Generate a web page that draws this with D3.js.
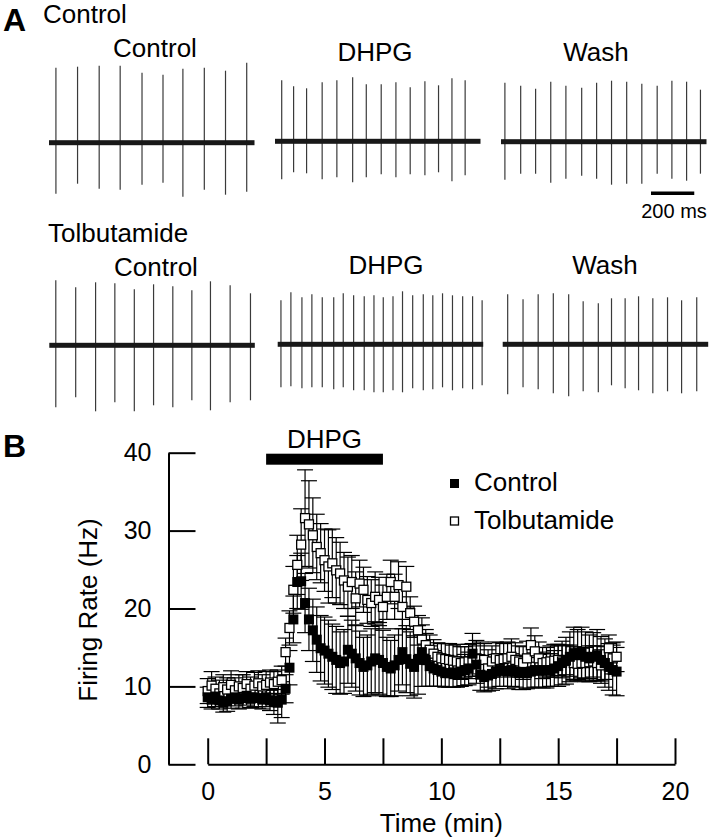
<!DOCTYPE html>
<html>
<head>
<meta charset="utf-8">
<script src="https://cdn.jsdelivr.net/npm/d3@7"></script>
<style>
  body { margin: 0; background: #fff; }
  svg { display: block; font-family: "Liberation Sans", Arial, sans-serif; }
</style>
</head>
<body>
<div class="fig"></div>
<script>
// ---------- Panel A: spike traces (times in ms, peaks/troughs in a.u.) ----------
const traceMs = 950

const ctlCtrlSpikes = [32, 132, 232, 329, 430, 527, 619, 718, 816, 914]
const ctlCtrlPeak = [75, 76, 77, 77, 70, 68, 74, 75, 72, 80]
const ctlCtrlTrough = [51, 41, 46, 47, 42, 40, 54, 47, 52, 49]

const ctlDhpgSpikes = [31, 86, 146, 218, 286, 359, 422, 491, 559, 625, 693, 756, 818, 879]
const ctlDhpgPeak = [61, 55, 53, 59, 61, 64, 57, 57, 59, 54, 60, 56, 63, 61]
const ctlDhpgTrough = [38, 31, 32, 38, 36, 41, 36, 33, 36, 33, 34, 31, 40, 34]

const ctlWashSpikes = [18, 91, 160, 230, 300, 373, 442, 511, 581, 651, 722, 790, 858, 922]
const ctlWashPeak = [59, 56, 53, 60, 56, 54, 59, 61, 60, 58, 56, 61, 60, 52]
const ctlWashTrough = [38, 32, 32, 41, 37, 34, 37, 43, 42, 42, 32, 37, 39, 32]

const tolCtrlSpikes = [30, 122, 214, 303, 393, 482, 571, 659, 745, 836, 930]
const tolCtrlPeak = [65, 58, 63, 62, 56, 61, 59, 55, 64, 60, 52]
const tolCtrlTrough = [62, 52, 66, 57, 66, 60, 62, 55, 65, 57, 55]

const tolDhpgSpikes = [15, 61, 112, 158, 206, 259, 303, 351, 400, 445, 488, 533, 577, 624, 673, 717, 762, 808, 855, 901, 945]
const tolDhpgPeak = [44, 52, 47, 50, 47, 47, 51, 49, 48, 49, 47, 48, 53, 49, 50, 49, 51, 49, 48, 48, 44]
const tolDhpgTrough = [43, 42, 44, 43, 43, 45, 43, 46, 46, 48, 48, 46, 48, 44, 46, 45, 43, 46, 44, 45, 41]

const tolWashSpikes = [23, 94, 164, 234, 305, 372, 442, 503, 566, 628, 694, 762, 827, 897]
const tolWashPeak = [50, 45, 50, 51, 50, 43, 41, 46, 46, 48, 46, 47, 44, 47]
const tolWashTrough = [50, 43, 45, 49, 52, 47, 48, 41, 44, 46, 49, 47, 49, 47]

// ---------- Panel B: firing rate, 10 s bins from 0 min ----------
const binSec = 10
const ctrlRate = [8.6,8.3,8.7,8.2,7.9,8.1,8.4,8.6,8.3,8.5,
  8.8,8.4,8.6,8.5,8.3,8.6,8.2,8.0,7.9,8.3,
  9.7,12.4,18.6,23.4,23.5,20.7,18.6,17.2,16.0,14.9,
  14.6,14.2,13.8,13.4,13.0,13.2,14.7,14.2,13.6,13.0,
  12.5,12.7,13.2,13.6,13.4,13.0,12.5,12.3,12.7,13.4,
  14.4,13.5,12.9,12.5,13.4,14.4,13.4,12.6,12.3,12.1,
  11.9,11.7,11.7,11.8,11.7,11.9,12.1,12.3,14.2,12.8,
  11.5,11.2,11.4,11.6,11.9,12.1,12.0,11.9,12.1,11.9,
  11.7,11.8,11.7,11.9,12.1,12.0,12.1,12.0,12.1,12.3,
  12.6,13.0,13.3,13.8,14.2,14.0,14.2,13.8,13.6,13.8,
  14.0,13.4,13.0,12.5,12.1,11.9]
const ctrlSem = [1.3,1.2,1.3,1.1,1.2,1.3,1.2,1.1,1.2,1.3,
  1.2,1.1,1.2,1.3,1.2,1.2,1.3,1.6,2.6,2.3,
  1.8,2.2,3.0,3.4,3.6,3.8,4.0,4.0,4.2,4.2,
  4.3,4.3,4.2,4.3,4.0,4.1,4.3,4.3,4.2,4.1,
  3.8,3.9,4.2,4.4,4.4,4.2,3.8,3.6,3.9,4.0,
  4.2,4.3,4.1,4.0,4.4,4.4,3.4,2.6,2.3,2.1,
  1.9,1.8,1.8,1.9,1.8,1.9,2.0,2.1,2.6,2.4,
  2.0,1.9,2.0,2.1,2.2,2.1,2.0,2.2,2.1,2.0,
  2.1,2.2,2.0,2.1,2.2,2.1,2.3,2.2,2.1,2.3,
  2.6,2.8,3.0,3.2,3.4,3.3,3.4,3.2,3.0,3.1,
  3.3,3.0,3.1,3.0,3.2,3.1]
const tolbRate = [9.4,10.1,9.7,9.1,9.9,9.6,10.2,9.5,10.0,9.8,
  10.3,9.7,10.1,10.4,10.0,10.2,10.5,10.3,10.6,10.8,
  14.4,17.5,22.4,25.6,28.2,31.6,30.8,29.4,27.9,27.1,
  26.2,25.4,25.8,24.9,24.5,23.6,22.8,23.4,21.3,23.2,
  22.4,21.1,20.7,21.5,21.1,20.2,21.5,23.4,21.5,23.0,
  20.2,22.8,19.4,18.3,17.2,16.0,15.3,14.7,14.2,13.8,
  13.6,13.5,13.4,13.3,13.2,13.0,13.1,13.2,13.4,13.6,
  13.5,13.4,12.3,13.2,13.6,13.4,13.5,13.6,13.8,13.4,
  13.2,13.0,13.6,15.3,14.5,13.6,13.0,13.1,13.2,13.3,
  13.4,13.2,13.4,13.3,13.0,12.9,13.0,13.0,13.1,13.2,
  13.0,12.7,13.0,14.9,13.6,13.8]
const tolbSem = [1.6,1.8,1.5,1.7,1.6,1.5,1.8,1.6,1.5,1.7,
  1.6,1.5,1.7,1.6,1.5,1.7,1.6,1.6,1.5,1.8,
  1.8,2.2,3.0,3.8,4.6,6.2,5.6,4.8,4.2,3.8,
  4.0,4.7,4.4,4.2,4.0,3.6,3.8,3.4,3.4,3.0,
  2.9,3.0,3.0,3.2,2.9,2.8,2.9,2.8,2.9,3.0,
  2.8,2.6,2.1,2.0,1.9,1.9,2.0,1.9,1.8,1.8,
  1.9,2.0,2.1,2.0,2.2,2.1,2.0,2.2,2.1,2.3,
  2.2,2.1,2.4,2.0,2.1,2.2,2.0,2.1,2.3,2.2,
  2.0,2.1,2.2,2.2,2.0,2.1,2.0,1.9,2.0,2.1,
  2.0,2.1,1.9,2.0,2.1,2.0,1.9,2.0,2.1,2.0,
  2.2,2.0,2.1,1.7,2.0,1.9]

const yTicks = [0, 10, 20, 30, 40]
const xTicks = [0, 2.5, 5, 7.5, 10, 12.5, 15, 17.5, 20]
const dhpgOn = [2.5, 7.5]

// ---------- svg ----------
const width = 711
const height = 837

const svg = d3.select('.fig')
  .append('svg')
  .attr('width', width)
  .attr('height', height)

svg.append('rect').attr('width', width).attr('height', height).attr('fill', '#fff')

// panel letters
svg.append('text').attr('x', 3).attr('y', 31).text('A')
  .style('font-size', '32px').style('font-weight', 'bold')
svg.append('text').attr('x', 3).attr('y', 457).text('B')
  .style('font-size', '32px').style('font-weight', 'bold')

const label = (x, y, txt, anchor) => svg.append('text')
  .attr('x', x).attr('y', y)
  .attr('text-anchor', anchor || 'middle')
  .style('font-size', '26px')
  .text(txt)

label(43, 23, 'Control', 'start')
label(48, 242, 'Tolbutamide', 'start')

// one trace = baseline band + vertical spikes
const drawTrace = (x0, base, spikes, peaks, troughs, title, titleX, titleY) => {
  const tx = d3.scaleLinear().domain([0, traceMs]).range([x0, x0 + 205.5])
  const ty = d3.scaleLinear().domain([-80, 80]).range([base + 80, base - 80])
  const g = svg.append('g')
  g.selectAll('line')
    .data(spikes)
    .enter()
    .append('line')
    .attr('x1', d => tx(d))
    .attr('x2', d => tx(d))
    .attr('y1', (d, i) => ty(peaks[i]))
    .attr('y2', (d, i) => ty(-troughs[i]))
    .attr('stroke', '#3a3a3a')
    .attr('stroke-width', 1.2)
  g.append('rect')
    .attr('x', tx(0)).attr('y', base - 2.5)
    .attr('width', tx(traceMs) - tx(0)).attr('height', 5)
    .attr('fill', '#181818')
  label(titleX, titleY, title)
}

drawTrace(49, 142.7, ctlCtrlSpikes, ctlCtrlPeak, ctlCtrlTrough, 'Control', 155, 57)
drawTrace(275, 141.3, ctlDhpgSpikes, ctlDhpgPeak, ctlDhpgTrough, 'DHPG', 375, 61)
drawTrace(501, 141.7, ctlWashSpikes, ctlWashPeak, ctlWashTrough, 'Wash', 596, 61)
drawTrace(49.3, 345.3, tolCtrlSpikes, tolCtrlPeak, tolCtrlTrough, 'Control', 156, 276)
drawTrace(277.7, 344.3, tolDhpgSpikes, tolDhpgPeak, tolDhpgTrough, 'DHPG', 386, 274)
drawTrace(502.7, 344.3, tolWashSpikes, tolWashPeak, tolWashTrough, 'Wash', 605, 274)

// scale bar 200 ms
const sb = d3.scaleLinear().domain([0, traceMs]).range([0, 205.5])
svg.append('rect').attr('x', 651).attr('y', 191.5)
  .attr('width', sb(200)).attr('height', 3.5).attr('fill', '#000')
svg.append('text').attr('x', 674).attr('y', 218).attr('text-anchor', 'middle')
  .style('font-size', '20px').text('200 ms')

// ---------- Panel B ----------
const x = d3.scaleLinear().domain([0, 20]).range([207.7, 675])
const y = d3.scaleLinear().domain([0, 40]).range([764.3, 452.7])

const yAxis = svg.append('g')
  .attr('transform', 'translate(168.5,0)')
  .call(d3.axisLeft(y).tickValues(yTicks).tickSizeInner(-27).tickSizeOuter(0).tickPadding(17))
const xAxis = svg.append('g')
  .attr('transform', 'translate(0,764.3)')
  .call(d3.axisBottom(x).tickValues(xTicks).tickSizeInner(-26).tickSizeOuter(0).tickPadding(18)
    .tickFormat(d => d % 5 === 0 ? d : ''))

;[yAxis, xAxis].forEach(ax => {
  ax.selectAll('path, line').attr('stroke', '#000').attr('stroke-width', 2)
  ax.selectAll('text').attr('fill', '#000').style('font-size', '25px')
    .style('font-family', '"Liberation Sans", Arial, sans-serif')
})

svg.append('text')
  .attr('transform', 'translate(97,610) rotate(-90)')
  .attr('text-anchor', 'middle')
  .style('font-size', '26px')
  .text('Firing Rate (Hz)')
svg.append('text')
  .attr('x', x(10)).attr('y', 832)
  .attr('text-anchor', 'middle')
  .style('font-size', '26px')
  .text('Time (min)')

// DHPG application bar
svg.append('rect')
  .attr('x', x(dhpgOn[0])).attr('y', y(40) + 1)
  .attr('width', x(dhpgOn[1]) - x(dhpgOn[0])).attr('height', 11)
  .attr('fill', '#000')
label(x(5), 448, 'DHPG')

const toPoints = (rates, sems) => rates.map((r, i) => ({ t: i * binSec / 60, r, s: sems[i] }))
const ctrlPts = toPoints(ctrlRate, ctrlSem)
const tolbPts = toPoints(tolbRate, tolbSem)

const capW = 8
const drawErr = (pts) => {
  const g = svg.append('g').attr('stroke', '#000').attr('stroke-width', 1.2)
  g.selectAll('.v').data(pts).enter().append('line')
    .attr('x1', d => x(d.t)).attr('x2', d => x(d.t))
    .attr('y1', d => y(d.r + d.s)).attr('y2', d => y(d.r - d.s))
  g.selectAll('.hi').data(pts).enter().append('line')
    .attr('x1', d => x(d.t) - capW).attr('x2', d => x(d.t) + capW)
    .attr('y1', d => y(d.r + d.s)).attr('y2', d => y(d.r + d.s))
  g.selectAll('.lo').data(pts).enter().append('line')
    .attr('x1', d => x(d.t) - capW).attr('x2', d => x(d.t) + capW)
    .attr('y1', d => y(d.r - d.s)).attr('y2', d => y(d.r - d.s))
}
drawErr(tolbPts)
drawErr(ctrlPts)

const sq = 9
svg.append('g').selectAll('rect').data(tolbPts).enter().append('rect')
  .attr('x', d => x(d.t) - sq / 2).attr('y', d => y(d.r) - sq / 2)
  .attr('width', sq).attr('height', sq)
  .attr('fill', '#fff').attr('stroke', '#000').attr('stroke-width', 1.3)
svg.append('g').selectAll('rect').data(ctrlPts).enter().append('rect')
  .attr('x', d => x(d.t) - sq / 2 - 0.5).attr('y', d => y(d.r) - sq / 2 - 0.5)
  .attr('width', sq + 1).attr('height', sq + 1)
  .attr('fill', '#000')

// legend
svg.append('rect').attr('x', 450).attr('y', 479).attr('width', 9).attr('height', 9).attr('fill', '#000')
svg.append('rect').attr('x', 450.5).attr('y', 517).attr('width', 8).attr('height', 8)
  .attr('fill', '#fff').attr('stroke', '#000').attr('stroke-width', 1.3)
label(474, 491, 'Control', 'start')
label(474, 529, 'Tolbutamide', 'start')
</script>
</body>
</html>
